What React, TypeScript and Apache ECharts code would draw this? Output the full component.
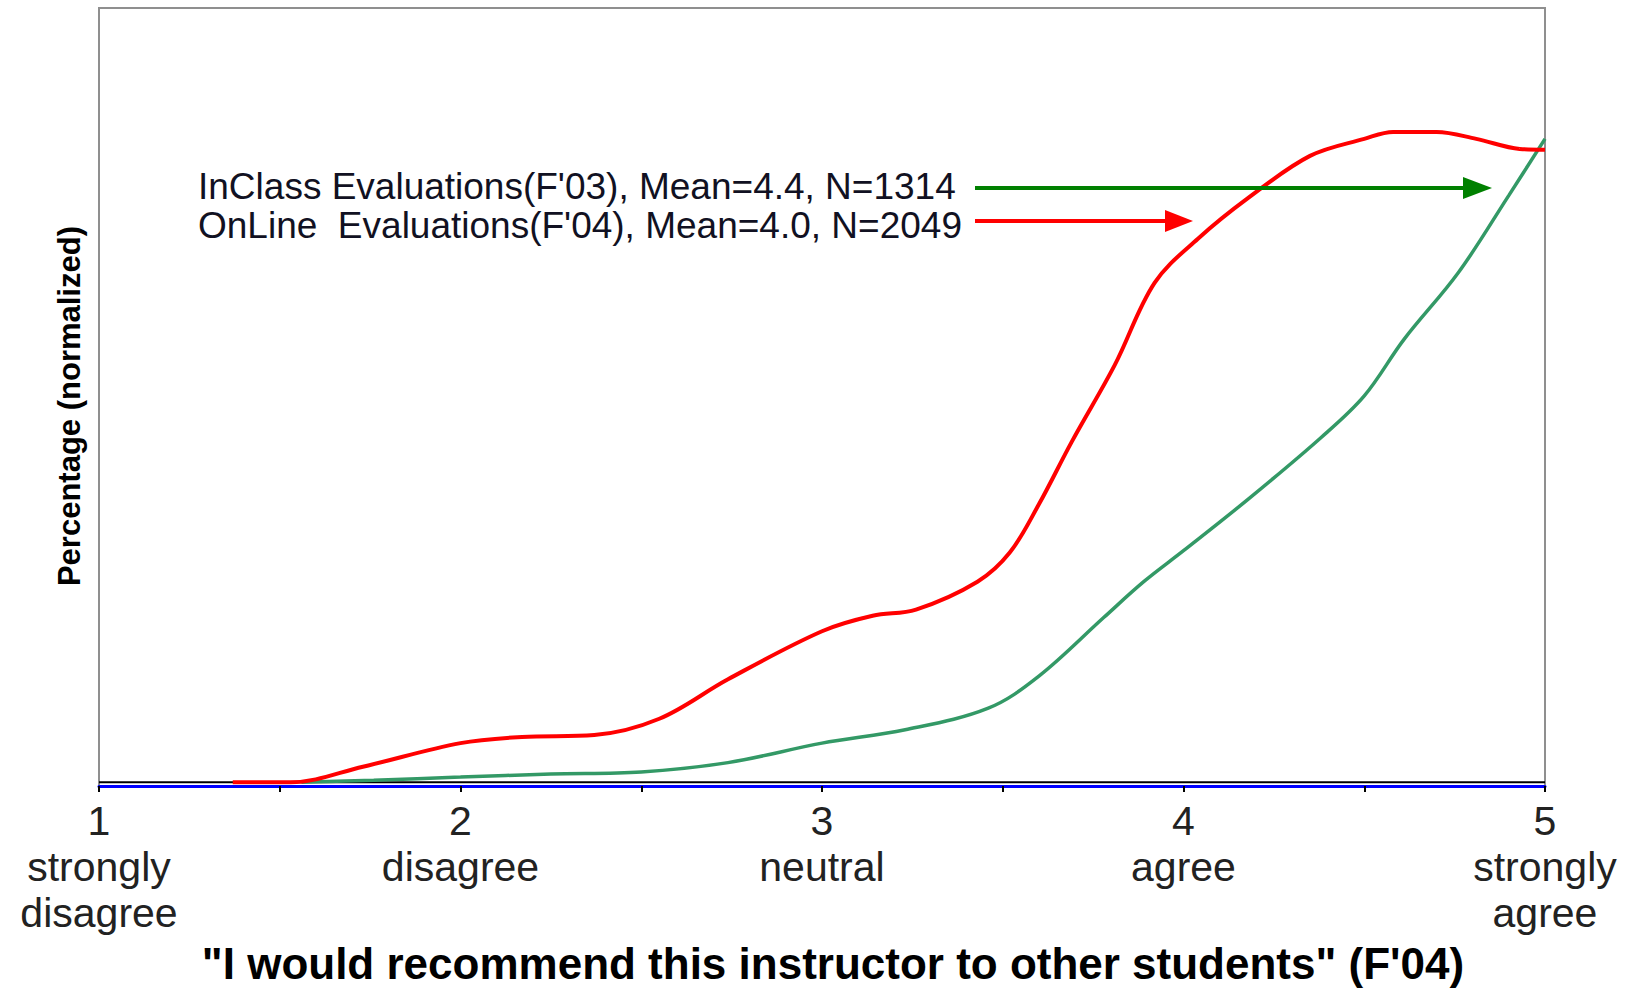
import React, { useEffect, useRef } from "react";
import * as echarts from "echarts";

// Rating scale ticks (x axis)
const tickValues = [1, 2, 3, 4, 5];
const tickWords = ["strongly\ndisagree", "disagree", "neutral", "agree", "strongly\nagree"];

// Legend annotations
const seriesNames = [
  "InClass Evaluations(F'03), Mean=4.4, N=1314",
  "OnLine  Evaluations(F'04), Mean=4.0, N=2049",
];

// OnLine evaluations (red)
const onlineX = [1.37, 1.53, 1.73, 2.0, 2.17, 2.37, 2.55, 2.74, 3.0, 3.14, 3.26, 3.43, 3.52, 3.6, 3.69, 3.81, 3.92, 4.04, 4.18, 4.35, 4.5, 4.58, 4.7, 4.81, 4.93, 5.0];
const onlineY = [0, 0, 2.0, 5.05, 5.85, 6.1, 8.2, 13.3, 19.5, 21.5, 22.3, 25.9, 29.7, 35.9, 43.9, 53.9, 64.5, 70.2, 75.5, 80.9, 83.1, 84.0, 84.0, 83.1, 81.8, 81.7];

// InClass evaluations (green)
const inclassX = [1.56, 1.76, 2.0, 2.25, 2.5, 2.74, 3.0, 3.23, 3.46, 3.6, 3.78, 3.89, 4.0, 4.18, 4.38, 4.5, 4.61, 4.76, 4.9, 5.0];
const inclassY = [0, 0.27, 0.66, 1.06, 1.33, 2.53, 5.05, 6.78, 9.57, 13.7, 21.3, 25.9, 29.9, 36.6, 44.5, 49.9, 57.2, 65.8, 75.8, 83.1];

const baselineX = [1, 5];
const baselineY = [0, 0];

const FONT = "'Liberation Sans', Arial, Helvetica, sans-serif";

export default function App() {
  const ref = useRef<HTMLDivElement>(null);

  useEffect(() => {
    document.body.style.margin = "0";
    if (!ref.current) return;
    const chart = echarts.init(ref.current, null, { renderer: "svg" });

    const zip = (xs: number[], ys: number[]) => xs.map((x, i) => [x, ys[i]]);

    chart.setOption({
      animation: false,
      backgroundColor: "#ffffff",
      grid: {
        left: 99,
        right: 86,
        top: 8,
        bottom: 197,
        show: true,
        borderColor: "#8f8f8f",
        borderWidth: 2,
        backgroundColor: "transparent",
      },
      xAxis: {
        type: "value",
        min: 1,
        max: 5,
        interval: 0.5,
        splitLine: { show: false },
        axisLine: { show: true, onZero: false, lineStyle: { color: "#0000ff", width: 3 } },
        axisTick: { show: true, length: 6, lineStyle: { color: "#000000", width: 2 } },
        axisLabel: {
          show: true,
          margin: 12,
          color: "#222222",
          fontFamily: FONT,
          fontSize: 41,
          lineHeight: 46,
          align: "center",
          showMinLabel: true,
          showMaxLabel: true,
          formatter: (v: number) => {
            const i = tickValues.indexOf(v);
            return i >= 0 ? `${tickValues[i]}\n${tickWords[i]}` : "";
          },
        },
        name: "\"I would recommend this instructor to other students\" (F'04)",
        nameLocation: "middle",
        nameGap: 150,
        nameTextStyle: {
          fontFamily: FONT,
          fontSize: 44,
          fontWeight: "bold",
          color: "#000000",
          padding: [0, 0, 0, 22],
        },
      },
      yAxis: {
        type: "value",
        min: -0.5,
        max: 100,
        axisLine: { show: false },
        axisTick: { show: false },
        axisLabel: { show: false },
        splitLine: { show: false },
        name: "Percentage (normalized)",
        nameLocation: "middle",
        nameRotate: 90,
        nameGap: 14,
        nameTextStyle: {
          fontFamily: FONT,
          fontSize: 31,
          fontWeight: "bold",
          color: "#000000",
          padding: [0, 18, 0, 0],
        },
      },
      series: [
        {
          name: "baseline",
          type: "line",
          data: zip(baselineX, baselineY),
          showSymbol: false,
          lineStyle: { color: "#000000", width: 2 },
          z: 1,
          silent: true,
        },
        {
          name: seriesNames[0],
          type: "line",
          data: zip(inclassX, inclassY),
          smooth: 0.35,
          showSymbol: false,
          lineStyle: { color: "#339966", width: 3.5 },
          z: 3,
        },
        {
          name: seriesNames[1],
          type: "line",
          data: zip(onlineX, onlineY),
          smooth: 0.35,
          showSymbol: false,
          lineStyle: { color: "#ff0000", width: 4 },
          z: 4,
        },
      ],
      graphic: [
        {
          type: "text",
          left: 198,
          top: 168,
          z: 10,
          style: { text: seriesNames[0], fontFamily: FONT, fontSize: 37, fill: "#111122" },
        },
        {
          type: "text",
          left: 198,
          top: 207,
          z: 10,
          style: { text: seriesNames[1], fontFamily: FONT, fontSize: 37, fill: "#111122" },
        },
        {
          type: "line",
          z: 10,
          shape: { x1: 975, y1: 188, x2: 1468, y2: 188 },
          style: { stroke: "#008000", lineWidth: 4 },
        },
        {
          type: "polygon",
          z: 10,
          shape: { points: [[1463, 177], [1492, 188], [1463, 199]] },
          style: { fill: "#008000" },
        },
        {
          type: "line",
          z: 10,
          shape: { x1: 975, y1: 221, x2: 1170, y2: 221 },
          style: { stroke: "#ff0000", lineWidth: 4 },
        },
        {
          type: "polygon",
          z: 10,
          shape: { points: [[1165, 210], [1193, 221], [1165, 232]] },
          style: { fill: "#ff0000" },
        },
      ],
    });

    return () => chart.dispose();
  }, []);

  return <div ref={ref} style={{ width: 1631, height: 990 }} />;
}
